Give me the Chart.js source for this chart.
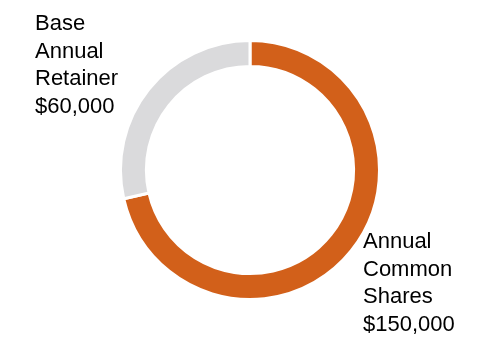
<!DOCTYPE html>
<html>
<head>
<meta charset="utf-8">
<script src="https://cdn.jsdelivr.net/npm/chart.js@4"></script>
<style>
  html, body { margin: 0; padding: 0; background: #fff; }
  #wrap { width: 500px; height: 340px; position: relative; }
</style>
</head>
<body>
<div id="wrap"><canvas id="comp"></canvas></div>
<script>
// Remuneração anual: ações x retainer
const categories = ['Annual Common Shares', 'Base Annual Retainer'];
const amounts = [150000, 60000];
const sliceColors = ['#D2601A', '#DADADC'];

const fmt = v => '$' + v.toLocaleString('en-US');

// rótulos fora do anel: um no canto superior esquerdo, outro no inferior direito
const outerLabels = {
  id: 'outerLabels',
  afterDraw(chart) {
    const { ctx, data } = chart;
    const lineH = 27.5;
    ctx.save();
    ctx.font = '22px "Liberation Sans", Arial, sans-serif';
    ctx.fillStyle = '#000';
    ctx.textBaseline = 'alphabetic';
    ctx.textAlign = 'left';
    data.labels.forEach((lab, i) => {
      const lines = lab.split(' ').concat(fmt(data.datasets[0].data[i]));
      const pos = i === 0 ? { x: 363, y: 248 } : { x: 35, y: 30 };
      lines.forEach((t, k) => ctx.fillText(t, pos.x, pos.y + k * lineH));
    });
    ctx.restore();
  }
};

new Chart(document.getElementById('comp'), {
  type: 'doughnut',
  data: {
    labels: categories,
    datasets: [{
      data: amounts,
      backgroundColor: sliceColors,
      borderColor: '#fff',
      borderWidth: 3
    }]
  },
  options: {
    responsive: true,
    maintainAspectRatio: false,
    animation: false,
    cutout: '80%',
    layout: { padding: { top: 38, bottom: 38, left: 119, right: 119 } },
    plugins: {
      legend: { display: false },
      tooltip: { enabled: false }
    }
  },
  plugins: [outerLabels]
});
</script>
</body>
</html>
